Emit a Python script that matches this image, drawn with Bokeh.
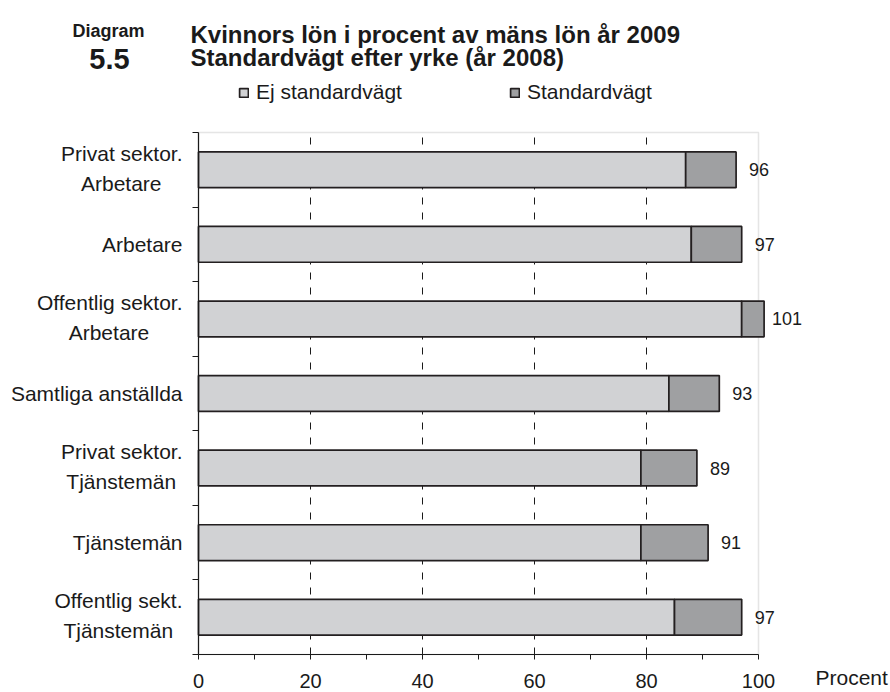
from bokeh.plotting import figure
from bokeh.models import (Range1d, FixedTicker, ColumnDataSource, LabelSet, Label,
                          BoxAnnotation, Legend, LegendItem)
from bokeh.core.properties import value
from bokeh.embed import file_html
from bokeh.resources import INLINE

# ---------------- data ----------------
categories = ["Privat sektor.\nArbetare", "Arbetare", "Offentlig sektor.\nArbetare",
              "Samtliga anställda", "Privat sektor.\nTjänstemän", "Tjänstemän",
              "Offentlig sekt.\nTjänstemän"]
ej_standardvagt = [87, 88, 97, 84, 79, 79, 85]
standardvagt = [96, 97, 101, 93, 89, 91, 97]
x_ticks = [0, 20, 40, 60, 80, 100]
x_minor_ticks = [10, 30, 50, 70, 90]
grid_ticks = [20, 40, 60, 80]
series_names = ["Ej standardvägt", "Standardvägt"]
title_lines = ["Kvinnors lön i procent av mäns lön år 2009", "Standardvägt efter yrke (år 2008)"]
diagram_label = "Diagram"
diagram_number = "5.5"
unit_label = "Procent"

FONT = "Liberation Sans"
TXT = "#1a1a1a"
LIGHT = "#d1d2d4"
DARK = "#9fa0a2"
EDGE = "#231f20"

WIDTH, HEIGHT = 890, 692
# plot area (pixels in the canvas)
PL, PR, PT, PB = 198, 758, 132, 654

n = len(categories)
ypos = [n - i - 0.5 for i in range(n)]

# approximate Arial/Liberation Sans advance widths (per 1000 em) for centering label lines
W = {' ': 278, '.': 278, 'A': 667, 'O': 778, 'P': 667, 'S': 667, 'T': 611, 'a': 556, 'b': 556,
     'd': 556, 'e': 556, 'f': 278, 'g': 556, 'i': 222, 'j': 222, 'k': 500, 'l': 222, 'm': 833,
     'n': 556, 'o': 556, 'r': 333, 's': 500, 't': 278, 'v': 500, 'ä': 556}
CAT_FS = 21
GAP = 16          # px between label block and axis
LINE_PITCH = 30   # px between the two lines of a label


def text_w(s, fs):
    return sum(W.get(c, 556) for c in s) * fs / 1000.0


# data ranges chosen so that the whole canvas is the frame (nothing gets clipped)
xs = 100.0 / (PR - PL)
ys = n / (PB - PT)
x_range = Range1d(-PL * xs, (WIDTH - PL) * xs)
y_range = Range1d(-(HEIGHT - PB) * ys, n + PT * ys)

src = ColumnDataSource(dict(y=ypos, ej=ej_standardvagt, std=standardvagt,
                            lab=[str(v) for v in standardvagt]))

# category label lines
single = dict(y=[], t=[])
first = dict(y=[], t=[])
second = dict(y=[], t=[], off=[])
half = LINE_PITCH / 2 * ys
for c, y in zip(categories, ypos):
    lines = c.split("\n")
    if len(lines) == 1:
        single["y"].append(y)
        single["t"].append(lines[0])
    else:
        wmax = max(text_w(s, CAT_FS) for s in lines)
        first["y"].append(y + half + 1.5 * ys)
        first["t"].append(lines[0])
        second["y"].append(y - half + 1.5 * ys)
        second["t"].append(lines[1])
        second["off"].append(-(GAP + wmax / 2))

p = figure(width=WIDTH, height=HEIGHT, output_backend="svg", toolbar_location=None,
           x_range=x_range, y_range=y_range,
           min_border=0, min_border_left=0, min_border_right=0, min_border_top=0,
           min_border_bottom=0, background_fill_color="white", border_fill_color="white")
p.outline_line_color = None

# plot-area border (gray top/right)
p.add_layout(BoxAnnotation(left=0, right=100, bottom=0, top=n, fill_color=None,
                           line_color="#a8a8a8", line_width=1.5, level="underlay"))

# grid
p.ygrid.visible = False
p.xgrid.ticker = FixedTicker(ticks=grid_ticks)
p.xgrid.cross_bounds = (0, n)
p.xgrid.grid_line_color = "#1a1a1a"
p.xgrid.grid_line_dash = "7 8"
p.xgrid.grid_line_width = 1

# x axis
xa = p.xaxis[0]
xa.fixed_location = 0
xa.ticker = FixedTicker(ticks=x_ticks, minor_ticks=x_minor_ticks)
xa.bounds = (0, 100)
xa.axis_line_color = "#1a1a1a"
xa.axis_line_width = 1.2
xa.major_tick_in = 0
xa.major_tick_out = 5
xa.minor_tick_in = 0
xa.minor_tick_out = 5
xa.major_tick_line_color = "#1a1a1a"
xa.minor_tick_line_color = "#1a1a1a"
xa.major_label_text_font = FONT
xa.major_label_text_font_size = "20px"
xa.major_label_text_color = TXT
xa.major_label_standoff = 14

# y axis: ticks at band boundaries only
ya = p.yaxis[0]
ya.fixed_location = 0
ya.ticker = FixedTicker(ticks=[], minor_ticks=list(range(n + 1)))
ya.bounds = (0, n)
ya.axis_line_color = "#1a1a1a"
ya.axis_line_width = 1.2
ya.minor_tick_in = 0
ya.minor_tick_out = 6
ya.minor_tick_line_color = "#1a1a1a"

# bars
r1 = p.hbar(y="y", left=0, right="ej", height=0.48, source=src,
            fill_color=LIGHT, line_color=EDGE, line_width=1.7)
r2 = p.hbar(y="y", left="ej", right="std", height=0.48, source=src,
            fill_color=DARK, line_color=EDGE, line_width=1.7)

# value labels
p.add_layout(LabelSet(x="std", y="y", text="lab", source=src, x_offset=23,
                      text_align="center", text_baseline="middle",
                      text_font=value(FONT), text_font_size="18px", text_color=TXT))

# category labels
cat_style = dict(text_font=value(FONT), text_font_size=f"{CAT_FS}px", text_color=TXT,
                 text_baseline="middle")
p.add_layout(LabelSet(x=0, y="y", text="t", source=ColumnDataSource(single),
                      x_offset=-GAP, text_align="right", **cat_style))
p.add_layout(LabelSet(x=0, y="y", text="t", source=ColumnDataSource(first),
                      x_offset=-GAP, text_align="right", **cat_style))
p.add_layout(LabelSet(x=0, y="y", text="t", source=ColumnDataSource(second),
                      x_offset="off", text_align="center", **cat_style))

# legend
legend = Legend(items=[LegendItem(label=series_names[0], renderers=[r1]),
                       LegendItem(label=series_names[1], renderers=[r2])],
                orientation="horizontal", location=(238, HEIGHT - 104),
                glyph_width=11, glyph_height=11, label_standoff=7, spacing=107,
                padding=0, margin=0, border_line_color=None, background_fill_alpha=0,
                label_text_font=FONT, label_text_font_size="21px", label_text_color=TXT)
p.add_layout(legend, "center")


def hdr(text, x, y, size, bold=True, align="left"):
    p.add_layout(Label(x=x, y=HEIGHT - y, x_units="screen", y_units="screen", text=text,
                       text_font=FONT, text_font_style="bold" if bold else "normal",
                       text_font_size=size, text_color=TXT, text_baseline="alphabetic",
                       text_align=align))


# header texts (baseline positions in canvas pixels from top)
hdr(title_lines[0], 190, 34, "24px")
hdr(title_lines[1], 190, 57, "24px")
hdr(diagram_label, 108, 30, "18px", align="center")
hdr(diagram_number, 109, 58, "29px", align="center")

# unit label
hdr(unit_label, 815, 677, "21px", bold=False)

open("out.html", "w").write(file_html(p, INLINE))
